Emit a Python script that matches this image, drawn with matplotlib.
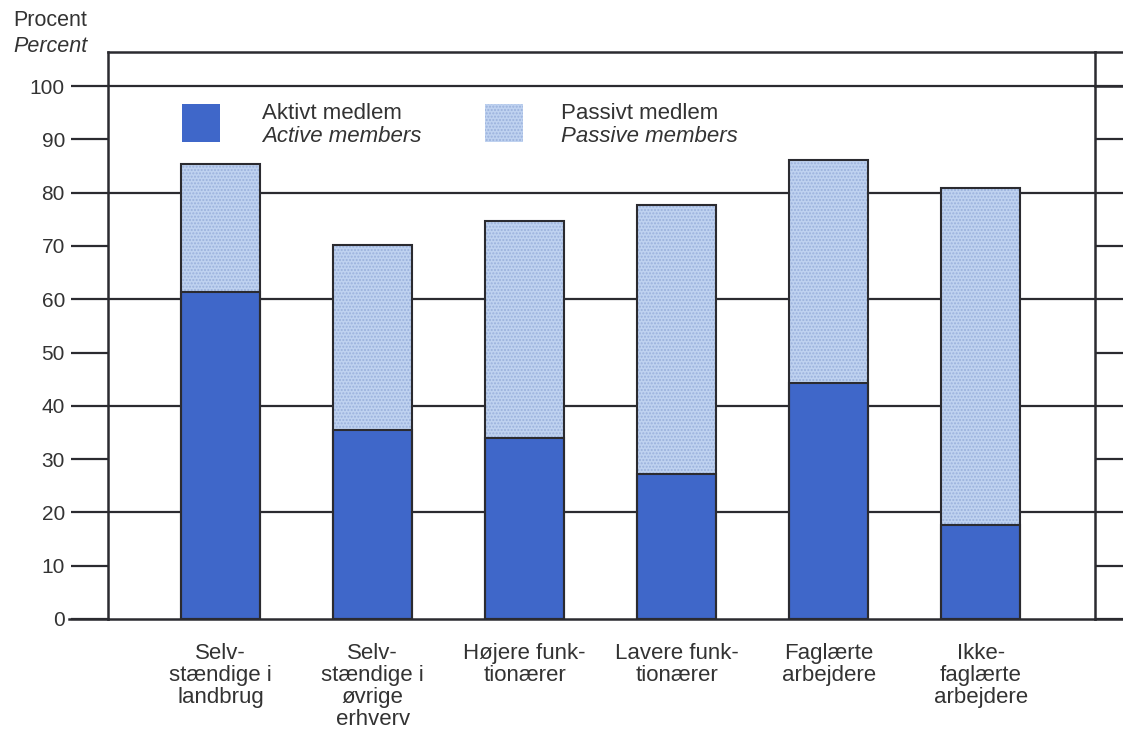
import matplotlib
matplotlib.use("Agg")
import matplotlib.pyplot as plt
import numpy as np
from matplotlib.patches import Rectangle

plt.rcParams['font.family'] = ['Liberation Sans', 'DejaVu Sans']

# data
categories = ["Selv-\nstændige i\nlandbrug",
              "Selv-\nstændige i\nøvrige\nerhverv",
              "Højere funk-\ntionærer",
              "Lavere funk-\ntionærer",
              "Faglærte\narbejdere",
              "Ikke-\nfaglærte\narbejdere"]
active = [61.4, 35.4, 34.0, 27.3, 44.2, 17.6]
passive = [23.9, 34.7, 40.6, 50.3, 41.9, 63.2]
yticks = [0, 10, 20, 30, 40, 50, 60, 70, 80, 90, 100]
grid_at = [20, 40, 60, 80, 100]

dark = '#2b2b30'
blue = '#3f67c9'
light = '#bfd2f0'
dots = '#9ab1dc'
txt = '#333333'

fig = plt.figure(figsize=(11.23, 7.30), dpi=100)
ax = fig.add_axes([108/1123, 111/730, 987/1123, 567/730])

x = np.arange(len(categories))
w = 0.52
total = np.array(active) + np.array(passive)

# gridlines (only every 20), drawn under bars
for g in grid_at:
    ax.axhline(g, color=dark, lw=1.6, zorder=1)

ax.bar(x, passive, w, bottom=active, color=light, hatch='.....',
       edgecolor=dots, linewidth=0, zorder=2)
ax.bar(x, active, w, color=blue, edgecolor=dark, linewidth=1.5, zorder=3)
ax.bar(x, total, w, fill=False, edgecolor=dark, linewidth=1.5, zorder=4)

ax.set_xlim(-0.74, 5.75)
ax.set_ylim(0, 106.4)

for s in ax.spines.values():
    s.set_color(dark)
    s.set_linewidth(1.8)

ax.set_yticks(yticks)
ax.tick_params(axis='y', which='both', direction='out', length=27, width=1.6,
               color=dark, labelsize=15, labelcolor=txt, pad=4,
               right=True, labelright=False)
for t in ax.yaxis.get_major_ticks():
    t.tick2line.set_markersize(21)

ax.set_xticks(x)
ax.set_xticklabels(categories, fontsize=16, color=txt, linespacing=1.08,
                   va='top')
ax.tick_params(axis='x', length=0, pad=17)

# lines continuing past the right frame edge
for yy in [0, 100, 106.4]:
    ax.plot([1, 1.03], [yy, yy], transform=ax.get_yaxis_transform(),
            color=dark, lw=1.8, clip_on=False, zorder=5)
ax.plot([-0.04, 0], [0, 0], transform=ax.get_yaxis_transform(),
        color=dark, lw=1.8, clip_on=False)

# legend
sq_w, sq_h = 38/987, 38/567
ax.add_patch(Rectangle((74/987, 0.841), sq_w, sq_h, transform=ax.transAxes,
                       facecolor=blue, edgecolor='none', zorder=5))
ax.add_patch(Rectangle((377/987, 0.841), sq_w, sq_h, transform=ax.transAxes,
                       facecolor=light, hatch='.....', edgecolor=dots,
                       linewidth=0, zorder=5))
ax.text(154/987, 0.892, "Aktivt medlem", transform=ax.transAxes, fontsize=16,
        color=txt, va='center')
ax.text(154/987, 0.851, "Active members", transform=ax.transAxes, fontsize=16,
        color=txt, va='center', style='italic')
ax.text(453/987, 0.892, "Passivt medlem", transform=ax.transAxes, fontsize=16,
        color=txt, va='center')
ax.text(453/987, 0.851, "Passive members", transform=ax.transAxes, fontsize=16,
        color=txt, va='center', style='italic')

fig.text(13/1123, 1 - 20/730, "Procent", fontsize=15.5, color=txt, va='center')
fig.text(13/1123, 1 - 46/730, "Percent", fontsize=15.5, color=txt, va='center',
         style='italic')

fig.savefig("out.png", dpi=100)
